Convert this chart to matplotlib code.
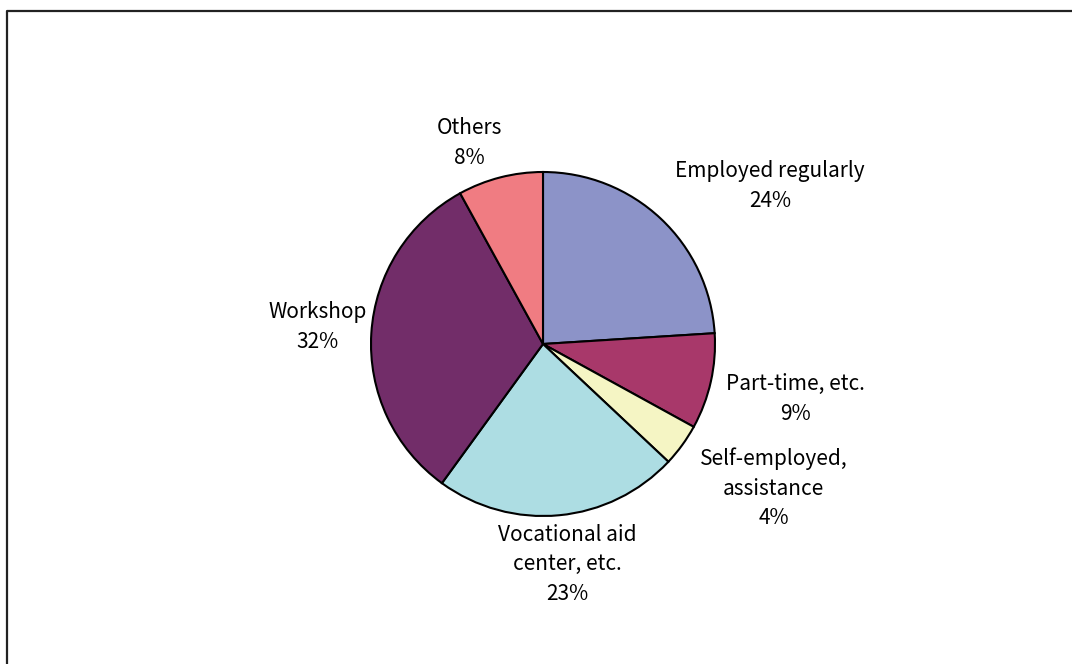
import matplotlib.pyplot as plt
from matplotlib.lines import Line2D

plt.rcParams['font.family'] = ['Noto Sans CJK JP', 'DejaVu Sans']

# share of graduates by destination (%), clockwise from 12 o'clock
categories = ['Employed regularly', 'Part-time, etc.', 'Self-employed,\nassistance',
              'Vocational aid\ncenter, etc.', 'Workshop', 'Others']
shares = [24, 9, 4, 23, 32, 8]
colors = ['#8C93C8', '#A8386A', '#F5F5C4', '#ADDDE3', '#722D69', '#F07C82']

# label centres in pie units (radius = 1)
label_pos = [(1.32, 0.92), (1.47, -0.32), (1.34, -0.84),
             (0.14, -1.28), (-1.31, 0.10), (-0.43, 1.17)]

W, H = 1072, 664
fig = plt.figure(figsize=(W / 100, H / 100), dpi=100)

# frame round the chart area (runs off the right and bottom edges)
fig.add_artist(Line2D([7 / W, 7 / W, 1.0], [0.0, 1 - 11 / H, 1 - 11 / H],
                      transform=fig.transFigure, color='#222222', lw=1.6))

cx, cy, r = 543, 344, 172
ax = fig.add_axes([(cx - r) / W, (H - cy - r) / H, 2 * r / W, 2 * r / H])
ax.pie(shares, colors=colors, startangle=90, counterclock=False, radius=1,
       wedgeprops=dict(edgecolor='black', linewidth=1.5))
ax.set_xlim(-1, 1)
ax.set_ylim(-1, 1)
ax.set_aspect('equal')
ax.axis('off')

for name, val, (lx, ly) in zip(categories, shares, label_pos):
    ax.text(lx, ly, f'{name}\n{val}%', ha='center', va='center',
            fontsize=15, color='black', linespacing=1.45, clip_on=False)

fig.savefig('out.png', dpi=100)
